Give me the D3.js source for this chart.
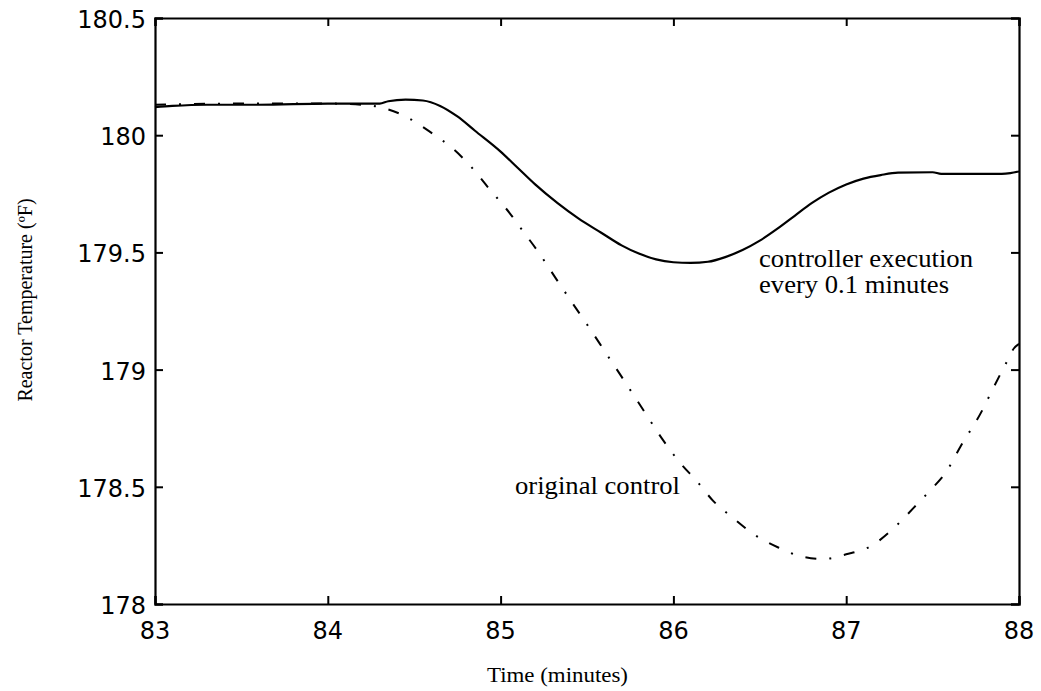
<!DOCTYPE html>
<html>
<head>
<meta charset="utf-8">
<script src="https://cdn.jsdelivr.net/npm/d3@7/dist/d3.min.js"></script>
<style>
  html, body { margin: 0; padding: 0; background: #fff; }
  svg { display: block; }
</style>
</head>
<body>
<svg id="chart" width="1041" height="691"></svg>
<script>
// Reactor temperature response: original control vs. faster controller execution
const xTicks = [83, 84, 85, 86, 87, 88];
const yTicks = [178, 178.5, 179, 179.5, 180, 180.5];
const yTickLabels = ["178", "178.5", "179", "179.5", "180", "180.5"];

// controller execution every 0.1 minutes (solid)
const fastTime = [83.0, 83.1, 83.3, 83.6, 84.0, 84.3, 84.35, 84.45, 84.55, 84.65, 84.75, 84.85,
  85.0, 85.1, 85.2, 85.33, 85.45, 85.58, 85.7, 85.8, 85.9, 86.0, 86.1, 86.2, 86.3, 86.4,
  86.5, 86.6, 86.7, 86.8, 86.9, 87.0, 87.1, 87.2, 87.3, 87.5, 87.55, 87.7, 87.9, 87.95, 88.0];
const fastTemp = [180.12, 180.125, 180.13, 180.13, 180.135, 180.135, 180.145, 180.152, 180.148, 180.125, 180.08, 180.02,
  179.93, 179.86, 179.79, 179.71, 179.645, 179.585, 179.53, 179.495, 179.47, 179.458, 179.455, 179.46, 179.48, 179.51,
  179.55, 179.60, 179.655, 179.71, 179.755, 179.79, 179.815, 179.83, 179.84, 179.842, 179.835, 179.835, 179.835, 179.838, 179.845];

// original control (dash-dot)
const origTime = [83.0, 83.5, 84.0, 84.2, 84.3, 84.45, 84.6, 84.72, 84.83, 84.93, 85.05, 85.13, 85.22,
  85.31, 85.41, 85.53, 85.61, 85.7, 85.85, 85.93, 86.03, 86.14, 86.23, 86.34, 86.47, 86.61, 86.73,
  86.87, 87.0, 87.15, 87.27, 87.39, 87.48, 87.58, 87.66, 87.79, 87.85, 87.92, 87.97, 88.0];
const origTemp = [180.13, 180.135, 180.135, 180.13, 180.12, 180.08, 180.01, 179.945, 179.865, 179.775, 179.67, 179.59, 179.50,
  179.40, 179.29, 179.16, 179.07, 178.97, 178.80, 178.71, 178.61, 178.52, 178.44, 178.37, 178.295, 178.24, 178.205,
  178.192, 178.212, 178.25, 178.32, 178.41, 178.48, 178.565, 178.67, 178.83, 178.92, 179.02, 179.09, 179.11];

const svg = d3.select("#chart");
const L = 155, R = 1019, T = 18, B = 604;

const x = d3.scaleLinear().domain([83, 88]).range([L, R]);
const y = d3.scaleLinear().domain([178, 180.5]).range([B, T]);

const tickFont = "'DejaVu Sans', sans-serif";
const serif = "'Liberation Serif', 'Times New Roman', serif";

// frame with inward ticks on all four sides
const g = svg.append("g");
const bottomAxis = d3.axisBottom(x).tickValues(xTicks).tickSize(-8).tickFormat("");
const topAxis = d3.axisTop(x).tickValues(xTicks).tickSize(-8).tickFormat("");
const leftAxis = d3.axisLeft(y).tickValues(yTicks).tickSize(-8).tickFormat("");
const rightAxis = d3.axisRight(y).tickValues(yTicks).tickSize(-8).tickFormat("");

[[bottomAxis, `translate(0,${B})`], [topAxis, `translate(0,${T})`],
 [leftAxis, `translate(${L},0)`], [rightAxis, `translate(${R},0)`]].forEach(([ax, tr]) => {
  const a = g.append("g").attr("transform", tr).call(ax);
  a.select(".domain").attr("stroke", "#000").attr("stroke-width", 2.2);
  a.selectAll(".tick line").attr("stroke", "#000").attr("stroke-width", 2);
});

// tick labels
g.append("g").selectAll("text").data(xTicks).join("text")
  .attr("x", d => x(d)).attr("y", 639)
  .attr("text-anchor", "middle")
  .attr("font-family", tickFont).attr("font-size", 24).attr("fill", "#000")
  .text(d => d);

g.append("g").selectAll("text").data(yTicks).join("text")
  .attr("x", 146).attr("y", d => y(d) + 10)
  .attr("text-anchor", "end")
  .attr("font-family", tickFont).attr("font-size", 24).attr("fill", "#000")
  .text((d, i) => yTickLabels[i]);

// axis titles
svg.append("text")
  .attr("x", 487).attr("y", 682)
  .attr("font-family", serif).attr("font-size", 21)
  .attr("textLength", 141).attr("lengthAdjust", "spacingAndGlyphs")
  .text("Time (minutes)");

svg.append("text")
  .attr("transform", "translate(32,300) rotate(-90)")
  .attr("text-anchor", "middle")
  .attr("font-family", serif).attr("font-size", 20)
  .text("Reactor Temperature (ºF)");

// curves
const line = d3.line().x(d => x(d[0])).y(d => y(d[1])).curve(d3.curveMonotoneX);

svg.append("path")
  .datum(origTime.map((t, i) => [t, origTemp[i]]))
  .attr("d", line)
  .attr("fill", "none").attr("stroke", "#000").attr("stroke-width", 2)
  .attr("stroke-dasharray", "11,13,2,13");

svg.append("path")
  .datum(fastTime.map((t, i) => [t, fastTemp[i]]))
  .attr("d", line)
  .attr("fill", "none").attr("stroke", "#000").attr("stroke-width", 2.2);

// annotations
svg.append("text")
  .attr("x", 759).attr("y", 267)
  .attr("font-family", serif).attr("font-size", 25)
  .attr("textLength", 214).attr("lengthAdjust", "spacingAndGlyphs")
  .text("controller execution");
svg.append("text")
  .attr("x", 759).attr("y", 293)
  .attr("font-family", serif).attr("font-size", 25)
  .attr("textLength", 190).attr("lengthAdjust", "spacingAndGlyphs")
  .text("every 0.1 minutes");
svg.append("text")
  .attr("x", 515).attr("y", 494)
  .attr("font-family", serif).attr("font-size", 25)
  .attr("textLength", 165).attr("lengthAdjust", "spacingAndGlyphs")
  .text("original control");
</script>
</body>
</html>
